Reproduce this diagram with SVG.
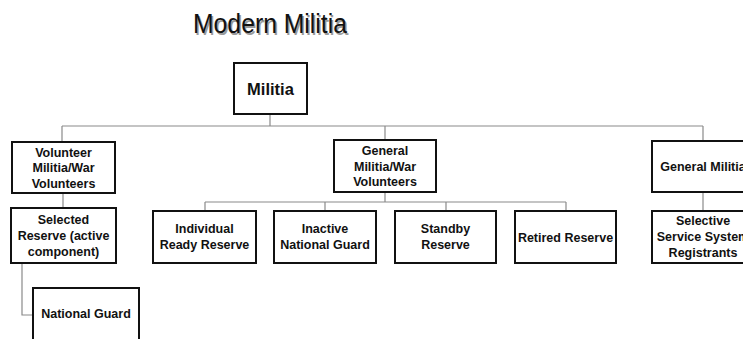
<svg xmlns="http://www.w3.org/2000/svg" width="743" height="339" viewBox="0 0 743 339">
<style>
.box{fill:#fff;stroke:#111;stroke-width:2}
.t{font-family:"Liberation Sans",Arial,sans-serif;font-weight:bold;font-size:12.5px;fill:#111;text-anchor:middle}
.conn{fill:none;stroke:#8a8a8a;stroke-width:1.2}
.title{font-family:"Liberation Sans",Arial,sans-serif;font-size:27px;text-anchor:middle}
</style>
<rect width="743" height="339" fill="#fff"/>
<g id="title">
<text class="title" x="271.5" y="34.5" fill="#9a9a9a" textLength="154" lengthAdjust="spacingAndGlyphs">Modern Militia</text>
<text class="title" x="270" y="33" fill="#111" textLength="154" lengthAdjust="spacingAndGlyphs">Modern Militia</text>
</g>
<g id="connectors" class="conn">
<path d="M270 114V126M62 126H703M62 126V142M385 126V140M703 126V141"/>
<path d="M63 193V208M22 263V315H33"/>
<path d="M385 192V202M205 202H566M205 202V211M325 202V211M446 202V211M566 202V211"/>
<path d="M703 192V211"/>
</g>
<g id="militia"><rect class="box" x="234" y="63" width="73" height="51"/><text class="t" x="270.5" y="95" style="font-size:16.5px">Militia</text></g>
<g id="volunteer"><rect class="box" x="12" y="142" width="103" height="51"/><text class="t" x="63.5" y="157">Volunteer</text><text class="t" x="63.5" y="172">Militia/War</text><text class="t" x="63.5" y="188">Volunteers</text></g>
<g id="selected"><rect class="box" x="11" y="208" width="105" height="55"/><text class="t" x="63.5" y="223.5">Selected</text><text class="t" x="63.5" y="239.5">Reserve (active</text><text class="t" x="63.5" y="255.5">component)</text></g>
<g id="nationalguard"><rect class="box" x="33" y="288" width="106" height="62"/><text class="t" x="86" y="317.5">National Guard</text></g>
<g id="general"><rect class="box" x="334" y="140" width="102" height="52"/><text class="t" x="385" y="154.5">General</text><text class="t" x="385" y="170.5">Militia/War</text><text class="t" x="385" y="185.5">Volunteers</text></g>
<g id="irr"><rect class="box" x="153" y="211" width="103" height="52"/><text class="t" x="204.5" y="232.5">Individual</text><text class="t" x="204.5" y="248.5">Ready Reserve</text></g>
<g id="ing"><rect class="box" x="274" y="211" width="102" height="52"/><text class="t" x="325" y="232.5">Inactive</text><text class="t" x="325" y="248.5">National Guard</text></g>
<g id="standby"><rect class="box" x="395" y="211" width="101" height="52"/><text class="t" x="445.5" y="232.5">Standby</text><text class="t" x="445.5" y="248.5">Reserve</text></g>
<g id="retired"><rect class="box" x="515" y="211" width="101" height="52"/><text class="t" x="565.5" y="241.5">Retired Reserve</text></g>
<g id="generalmilitia"><rect class="box" x="652" y="141" width="104" height="51"/><text class="t" x="703" y="170.5">General Militia</text></g>
<g id="sss"><rect class="box" x="652" y="211" width="104" height="52"/><text class="t" x="703" y="224.5">Selective</text><text class="t" x="703" y="240.5">Service System</text><text class="t" x="703" y="256.5">Registrants</text></g>
</svg>
